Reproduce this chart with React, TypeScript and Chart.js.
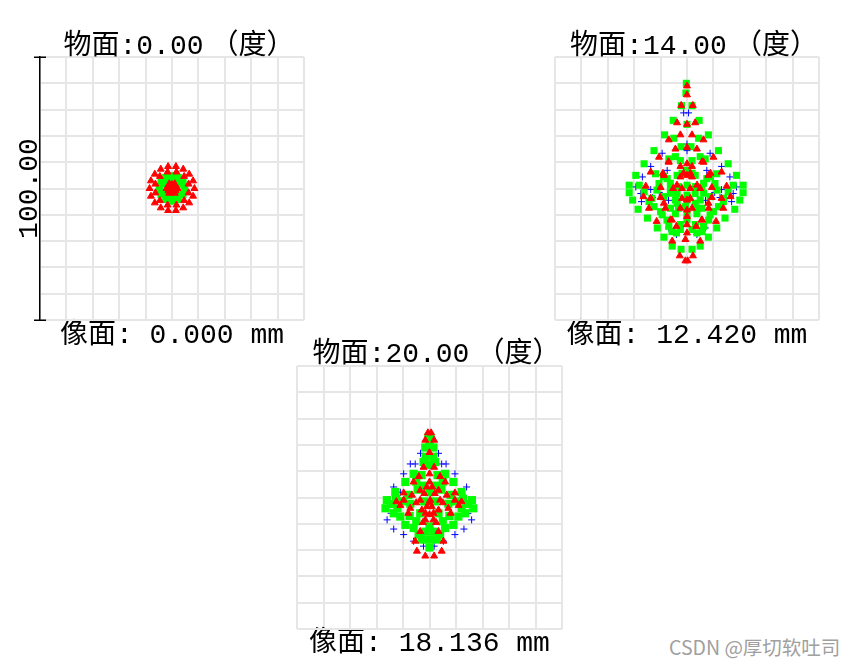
import React, { useEffect, useRef } from "react";
import { Chart, registerables } from "chart.js";

Chart.register(...registerables);

type Pt = [number, number];

// ---------- text ----------
const FIELD_TITLES = ["\u2002物面:0.00\u2005（度）", "\u2002物面:14.00\u2005（度）", "\u2002物面:20.00\u2005（度）"];
const IMAGE_LABELS = ["像面: 0.000 mm", "像面: 12.420 mm", "像面: 18.136 mm"];
const SCALE_BAR_TEXT = "100.00";
const WATERMARK = "CSDN @厚切软吐司";

// ---------- axis range (µm) ----------
const AXIS_MIN = -50;
const AXIS_MAX = 50;
const GRID_STEP = 10;

// ---------- field 1 (0.00°) ----------
const field1Blue: Pt[] = [
  [4.8, 0], [0, 4.8], [-4.8, 0], [0, -4.8], [2.77, 1.6], [-2.77, 1.6], [2.77, -1.6], [-2.77, -1.6],
];
const field1Green: Pt[] = [
  [4.8, 0], [4.16, 2.4], [2.4, 4.16], [0, 4.8], [-2.4, 4.16], [-4.16, 2.4],
  [-4.8, 0], [-4.16, -2.4], [-2.4, -4.16], [0, -4.8], [2.4, -4.16], [4.16, -2.4],
  [2.77, 1.6], [0, 3.2], [-2.77, 1.6], [-2.77, -1.6], [0, -3.2], [2.77, -1.6],
];
const field1Red: Pt[] = [
  [8.5, 0], [7.99, 2.91], [6.51, 5.46], [4.25, 7.36], [1.48, 8.37], [-1.48, 8.37],
  [-4.25, 7.36], [-6.51, 5.46], [-7.99, 2.91], [-8.5, 0], [-7.99, -2.91], [-6.51, -5.46],
  [-4.25, -7.36], [-1.48, -8.37], [1.48, -8.37], [4.25, -7.36], [6.51, -5.46], [7.99, -2.91],
  [6.28, 1.68], [4.6, 4.6], [1.68, 6.28], [-1.68, 6.28], [-4.6, 4.6], [-6.28, 1.68],
  [-6.28, -1.68], [-4.6, -4.6], [-1.68, -6.28], [1.68, -6.28], [4.6, -4.6], [6.28, -1.68],
  [0, 0], [0, 1.5], [1.3, 0.75], [-1.3, 0.75], [1.3, -0.75], [-1.3, -0.75], [0, -1.5],
  [2.1, 0], [-2.1, 0], [1.05, 1.8], [-1.05, 1.8], [1.05, -1.8], [-1.05, -1.8],
];

// ---------- field 2 (14.00°) ----------
const field2Blue: Pt[] = [
  [-1.25, 28.75], [0.6, 28.75], [0, 16.9], [0, 14.4], [-9.4, 13.4], [8.75, 13.4],
  [-13.75, 8.4], [13.1, 8.4], [-7.5, 6.9], [7.5, 6.9], [-16.9, 4.4], [16.25, 4.4],
  [-19.4, 0.6], [18.75, 0.6], [-13.75, -0.4], [13.1, -0.4], [-17.5, -1.9], [17.5, -1.9],
  [-13.1, -3.4], [12.5, -3.4], [-17.25, -5], [16.9, -5], [-6.9, -15], [6.9, -15],
  [-4, -17.5], [3.75, -17.5], [-10.5, -1.5], [10.5, -1.5], [-7, -4.5], [7, -4.5],
];
const field2Green: Pt[] = [
  [-0.25, 40], [-0.4, 36.3], [-2.1, 31.5], [1.9, 31.5], [-5.25, 25.9], [4.6, 25.9], [0, 24.4],
  [-8.5, 20.4], [8.1, 20.4], [-5, 19.1], [4.4, 19.1], [-2.25, 15.9], [1.5, 15.9],
  [-12.5, 14.4], [11.9, 14.4], [-6.9, 11.25], [6.9, 11.25], [-2.5, 10.6], [1.9, 10.6],
  [-16.25, 9.4], [15.6, 9.4], [0, 6.9], [-19.4, 5], [18.75, 5], [-11.9, 5.6], [11.25, 5.6],
  [-3.75, 5], [3.1, 5], [-7.5, 3.75], [7.5, 3.75], [-21.9, 1.25], [21.25, 1.25],
  [-18.1, 1.25], [17.5, 1.25], [-10.6, 1.9], [10.6, 1.9], [-6.25, 0.6], [5.6, 0.6], [0, 1.25],
  [-21.9, -1.6], [21.25, -1.6], [-16.25, -1.25], [15.6, -1.25], [-3.75, -1.9], [3.1, -1.9],
  [-8.75, -3.1], [8.75, -3.1], [-20.6, -4.4], [20, -4.4], [0, -4.4], [-14.4, -5], [13.75, -5],
  [-3.75, -5.6], [3.1, -5.6], [-18.5, -7.9], [18.1, -7.9], [-12.5, -6.9], [11.9, -6.9],
  [-6.25, -7.5], [5.6, -7.5], [-0.6, -6.9], [-15, -11.25], [14.4, -11.25], [-9.4, -10],
  [8.75, -10], [-4.4, -9.6], [3.75, -9.6], [0, -11.9], [-11.25, -15], [11.25, -15],
  [-6.9, -14.4], [6.25, -14.4], [-2.5, -15.6], [1.9, -15.6], [-8.75, -18.5], [8.1, -18.5],
  [-4, -16.9], [3.75, -16.9], [-5.6, -21.9], [5, -21.9], [-2.25, -23.1], [1.9, -23.1],
  [-4.4, 12.1], [5, 12.1], [-1.9, 5.8], [1.9, 5.8], [-8.9, 4.5], [8.9, 4.5],
  [-6.3, 2], [6.3, 2], [-3.2, 0.7], [3.2, 0.7], [-11.4, -0.6], [11.4, -0.6],
  [-6.3, -1.8], [6.3, -1.8], [0, -2.5], [-13.3, -3.7], [13.9, -3.7], [-4.4, -4.4], [5, -4.4],
  [-10, -8.8], [10, -8.8], [-3.2, -7.5], [3.8, -7.5], [-7.6, -12], [8.2, -12], [0, -10],
  [-5.7, -16.4], [5.7, -16.4], [-2.5, -13.7], [3.2, -13.7],
];
const field2Red: Pt[] = [
  [0, 39], [0, 35.6], [-2.2, 31.6], [2.2, 31.6], [-3.75, 25], [3.1, 25], [0, 24.4],
  [-6.9, 18.5], [6.25, 18.5], [-2.5, 20.4], [1.9, 20.4], [0, 15.6], [-10.6, 11.9], [10, 11.9],
  [-4.4, 15], [3.75, 15], [-6.9, 10], [6.25, 10], [0, 9.4], [-2.5, 8.4], [1.9, 8.4],
  [-13.75, 6.25], [13.1, 6.25], [-8.75, 5], [8.1, 5], [-2.5, 4.4], [1.9, 4.4], [0, 5],
  [-15.6, 0.9], [15, 0.9], [-10, 0.4], [9.4, 0.4], [-5.25, 0], [5, 0], [-1.9, 0], [1.25, 0],
  [-13.75, -3.75], [13.1, -3.75], [-10, -3.4], [9.4, -3.4], [-1.9, -3.75], [1.25, -3.75],
  [0, -4.4], [-14.4, -7.5], [13.75, -7.5], [-8.75, -5.6], [8.1, -5.6], [-2.5, -7.5], [1.9, -7.5],
  [-11.5, -12.5], [11, -12.5], [-6.25, -11.9], [5.6, -11.9], [0, -10.6], [0, -13.75],
  [-4, -14.4], [3.5, -14.4], [0, -16.9], [-5.6, -20], [5, -20], [-0.6, -19.4],
  [-2.75, -25.6], [2.25, -25.6], [-0.6, -27.5], [0.25, -27.5],
  [-7, 10.2], [5.7, 10.2], [-9.1, 5.8], [8.9, 5.8], [-1.3, 5.8], [1.3, 5.8],
  [-3.8, 1.3], [3.8, 1.3], [-16.5, -3.1], [16.5, -3.1], [-8.2, -7.5], [8.2, -7.5],
  [0, -8.2], [-5.7, -12], [5.7, -12],
];

// ---------- field 3 (20.00°) ----------
const field3Blue: Pt[] = [
  [-3.4, 16.8], [3.4, 16.8], [-7.25, 12.75], [-5.4, 12.75], [4.6, 12.75], [6.25, 12.75],
  [-9.75, 9], [9.6, 9], [-13.5, 4], [14, 4], [-11, 2], [11, 2], [-14.5, -6], [14.5, -6],
  [-16, -8.5], [15.9, -8.5], [-13.5, -12], [13, -12], [-9.75, -14.1], [9.6, -14.1],
  [-6, -16.6], [5.25, -16.6], [-2.25, -18.5], [1.75, -18.5],
];
const field3Green: Pt[] = [
  [-0.4, 22.75], [0.4, 22.75], [-1.6, 19], [1.5, 19], [0, 19.6], [-2.25, 13.5], [2.1, 13.5],
  [0, 12.4], [-6, 9], [5.9, 9], [-3, 8.5], [3, 8.5], [-9.1, 5.9], [9, 5.9],
  [-12.9, 2.1], [12.1, 2.1], [-16.1, -1], [16, -1], [-16.6, -4.1], [16.5, -4.1],
  [-13.5, -6], [13.4, -6], [-11, -7.25], [10.9, -7.25], [-12.1, -4.1], [12.1, -4.1],
  [-7.25, -2.4], [7.1, -2.4], [-3.5, -6], [3.4, -6], [-9.1, -10.4], [9, -10.4],
  [-6, -11.6], [5.9, -11.6], [-4.1, -14.1], [4, -14.1], [-2.9, -16], [2.75, -16], [0, -16],
  [0, -11], [0, 2], [-4.5, 3], [4.5, 3], [-8, 1], [8, 1], [-2, -1.5], [2, -1.5],
  [-12.6, -0.5], [12.6, -0.5],
  [-5, 6], [5, 6], [-10, -1.5], [10, -1.5], [-14.5, -2.5], [14.5, -2.5], [-5, -9], [5, -9],
  [-7.5, -7], [7.5, -7], [-1.5, -13], [1.5, -13], [-2.5, 4.5], [2.5, 4.5], [-1.5, 15.5],
  [1.5, 15.5], [0, -19],
];
const field3Red: Pt[] = [
  [-0.6, 24.6], [0.6, 24.6], [-1.6, 21.8], [1.75, 21.8], [0, 17.1], [-2.25, 11.5], [1.75, 11.5],
  [-6, 5.9], [5.9, 5.9], [0, 5.9], [-1, 4], [1, 4], [-3.5, 2.75], [3.4, 2.75],
  [-9.75, 1.75], [9.6, 1.75], [-6.6, 0.9], [6.5, 0.9], [-12.5, -1.6], [12.1, -1.6],
  [-9.75, -1], [9.6, -1], [-3.5, -1], [4, -1], [0.25, -1], [-7.25, -4.1], [7.1, -4.1],
  [-1, -3.5], [0.9, -3.5], [-2.9, -4.75], [3.4, -4.75], [0, -6.5], [-1.6, -8.5], [1.5, -8.5],
  [-3.5, -12.9], [3.4, -12.9], [-5.4, -16.6], [5.25, -16.6], [-4.75, -20.4], [4.6, -20.4],
  [-1.6, -22.25], [1.75, -22.25], [-2, 1.5], [2, 1.5], [-5, -2], [5, -2], [-1.5, -6], [1.5, -6],
  [-4, 8], [4, 8], [-8, -6], [8, -6], [-11, -3], [11, -3], [0, -2], [-2.5, -9.5], [2.5, -9.5],
  [0, 9],
];

const FIELDS: { blue: Pt[]; green: Pt[]; red: Pt[] }[] = [
  { blue: field1Blue, green: field1Green, red: field1Red },
  { blue: field2Blue, green: field2Green, red: field2Red },
  { blue: field3Blue, green: field3Green, red: field3Red },
];

// ---------- layout / style ----------
const FONT_FAMILY = "'Liberation Mono', 'Noto Sans CJK SC', 'DejaVu Sans', monospace";
const FONT_SIZE = 28;
const GRID_COLOR = "#e6e6e6";

interface PanelLayout {
  left: number; top: number; width: number; height: number;
  yAxisW: number; xAxisH: number; padRight: number;
  titlePadTop: number; titlePadBottom: number; labelPadBottom: number;
  scaleBar: boolean; greenRadius: number;
}

const LAYOUTS: PanelLayout[] = [
  { left: 0, top: 0, width: 330, height: 360, yAxisW: 40, xAxisH: 40, padRight: 26, titlePadTop: 36, titlePadBottom: 0, labelPadBottom: 10.5, scaleBar: true, greenRadius: 5 },
  { left: 520, top: 0, width: 334, height: 360, yAxisW: 35, xAxisH: 40, padRight: 35, titlePadTop: 36, titlePadBottom: 0, labelPadBottom: 10.5, scaleBar: false, greenRadius: 5 },
  { left: 260, top: 310, width: 340, height: 357, yAxisW: 37, xAxisH: 38, padRight: 38, titlePadTop: 34.5, titlePadBottom: 0.5, labelPadBottom: 9.5, scaleBar: false, greenRadius: 5.8 },
];

const toXY = (pts: Pt[]) => pts.map(([x, y]) => ({ x, y }));

// end ticks of the scale bar, crossing the black bar line
const scaleBarTicks = {
  id: "scaleBarTicks",
  afterDraw(chart: any) {
    const ys = chart.scales.y;
    const x = chart.chartArea.left;
    const ctx = chart.ctx;
    ctx.save();
    ctx.strokeStyle = "#000";
    ctx.lineWidth = 1.5;
    [AXIS_MIN, AXIS_MAX].forEach((v) => {
      const py = Math.round(ys.getPixelForValue(v)) + 0.25;
      ctx.beginPath();
      ctx.moveTo(x - 6, py);
      ctx.lineTo(x + 6, py);
      ctx.stroke();
    });
    ctx.restore();
  },
};

function buildConfig(i: number): any {
  const L = LAYOUTS[i];
  const F = FIELDS[i];
  const font = { family: FONT_FAMILY, size: FONT_SIZE, lineHeight: 1, weight: "normal" as const };
  const titleFont = { family: FONT_FAMILY, size: FONT_SIZE, lineHeight: 0.75, weight: "normal" as const };
  return {
    type: "scatter",
    data: {
      datasets: [
        {
          label: "λ1", data: toXY(F.blue), pointStyle: "cross", pointRadius: 3.5,
          borderColor: "#0000ff", backgroundColor: "#0000ff", pointBorderWidth: 1, order: 3,
        },
        {
          label: "λ2", data: toXY(F.green), pointStyle: "rect", pointRadius: L.greenRadius,
          borderColor: "#00ff00", backgroundColor: "#00ff00", pointBorderWidth: 0, order: 2,
        },
        {
          label: "λ3", data: toXY(F.red), pointStyle: "triangle", pointRadius: 4,
          borderColor: "#ff0000", backgroundColor: "#ff0000", pointBorderWidth: 1, order: 1,
        },
      ],
    },
    plugins: L.scaleBar ? [scaleBarTicks] : [],
    options: {
      responsive: false,
      animation: false,
      events: [],
      layout: { padding: { left: 0, top: 0, right: L.padRight, bottom: 0 }, autoPadding: false },
      plugins: {
        legend: { display: false },
        tooltip: { enabled: false },
        title: {
          display: true, text: FIELD_TITLES[i], fullSize: false, color: "#000",
          font: titleFont, padding: { top: L.titlePadTop, bottom: L.titlePadBottom },
        },
      },
      scales: {
        x: {
          type: "linear", position: "bottom", min: AXIS_MIN, max: AXIS_MAX,
          ticks: { display: false, stepSize: GRID_STEP },
          grid: { color: GRID_COLOR, lineWidth: 2, drawTicks: false },
          border: { display: false },
          title: {
            display: true, text: IMAGE_LABELS[i], color: "#000", font,
            padding: { top: 0, bottom: L.labelPadBottom },
          },
          afterFit: (s: any) => { s.height = L.xAxisH; },
        },
        y: {
          type: "linear", position: "left", min: AXIS_MIN, max: AXIS_MAX,
          ticks: { display: false, stepSize: GRID_STEP },
          grid: { color: GRID_COLOR, lineWidth: 2, drawTicks: false },
          border: { display: L.scaleBar, color: "#000", width: 1.5 },
          title: {
            display: L.scaleBar, text: SCALE_BAR_TEXT, color: "#000", font,
            padding: { top: 15.5, bottom: 0 },
          },
          afterFit: (s: any) => { s.width = L.yAxisW; },
        },
      },
    },
  };
}

export default function App() {
  const r0 = useRef<HTMLCanvasElement>(null);
  const r1 = useRef<HTMLCanvasElement>(null);
  const r2 = useRef<HTMLCanvasElement>(null);
  const refs = [r0, r1, r2];

  useEffect(() => {
    const charts = refs.map((r, i) => new Chart(r.current as HTMLCanvasElement, buildConfig(i)));
    return () => charts.forEach((c) => c.destroy());
  }, []);

  return (
    <div style={{ position: "absolute", left: 0, top: 0, width: 854, height: 667, background: "#fff", overflow: "hidden" }}>
      {LAYOUTS.map((L, i) => (
        <canvas
          key={i}
          ref={refs[i]}
          width={L.width}
          height={L.height}
          style={{ position: "absolute", left: L.left, top: L.top, width: L.width, height: L.height }}
        />
      ))}
      <div
        style={{
          position: "absolute", left: 669, top: 637, fontFamily: "'Noto Sans CJK SC', 'Noto Sans', sans-serif",
          fontSize: 19.5, lineHeight: "19px", color: "#a0a0a0", whiteSpace: "nowrap",
        }}
      >
        {WATERMARK}
      </div>
    </div>
  );
}
